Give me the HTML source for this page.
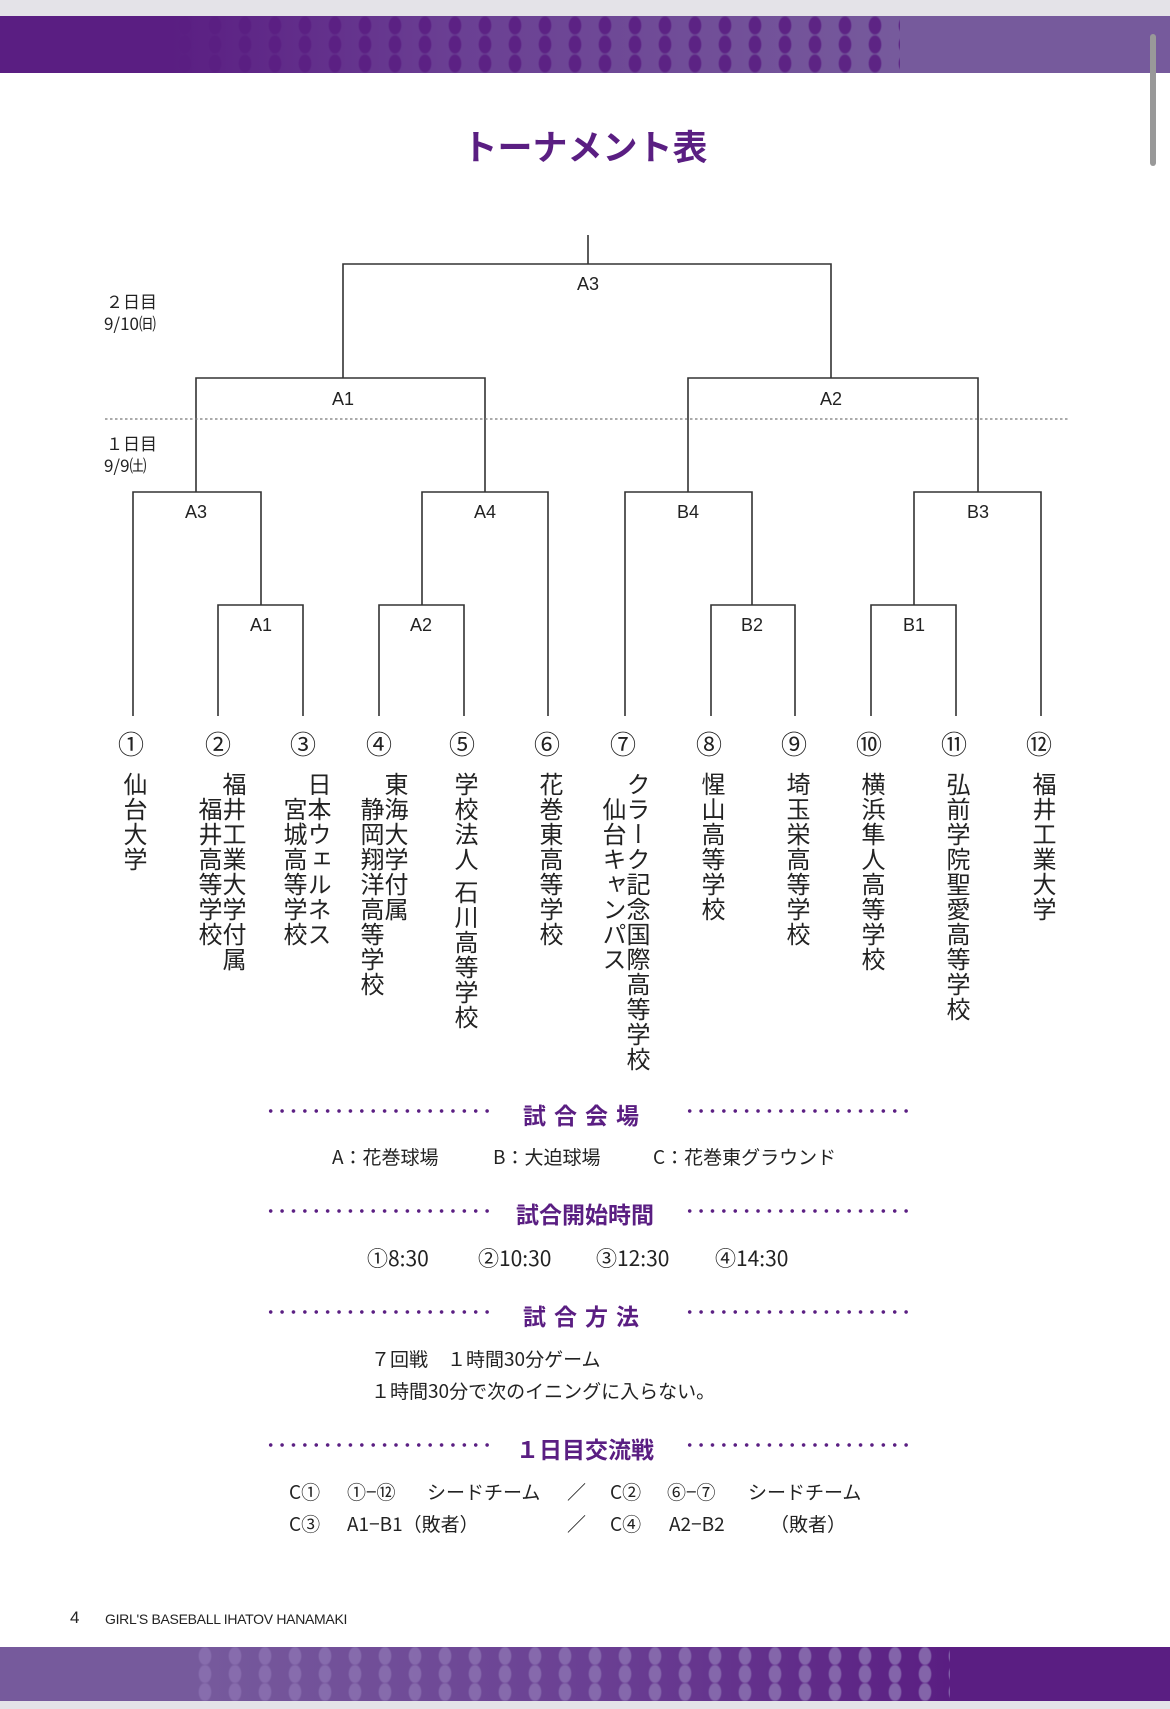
<!DOCTYPE html>
<html><head><meta charset="utf-8"><style>
*{margin:0;padding:0;box-sizing:border-box}
body{width:1170px;height:1709px;position:relative;background:#fff;overflow:hidden;font-family:"Liberation Sans","Noto Sans CJK JP",sans-serif;color:#222}
.a{position:absolute;white-space:nowrap}
.v{position:absolute;writing-mode:vertical-rl;font-size:24px;line-height:24px;letter-spacing:1px;color:#222;top:772px}
.h{position:absolute;left:0;width:1170px;text-align:center;color:#5a1e82;font-weight:bold;font-size:23px}
.dl{position:absolute;height:4px;background-image:radial-gradient(circle,#5a1e82 1.6px,transparent 2px);background-size:11.4px 4px}
.t{position:absolute;font-size:19px;white-space:nowrap;color:#222;font-family:"Noto Sans CJK JP",sans-serif;line-height:26px}
.t span{position:absolute;top:0}
</style></head><body>
<div class="a" style="left:0;top:0;width:1170px;height:16px;background:#e4e3e8"></div>
<div class="a" style="left:0;top:16px;width:1170px;height:57px;background:linear-gradient(90deg,#5a1e82 0,#5a1e82 170px,#6a3f93 450px,#765a9c 900px,#765a9c)"></div>
<div class="a" style="left:170px;top:16px;width:730px;height:57px;background-image:radial-gradient(ellipse 7px 10px,#5a1e82 80%,transparent 100%);background-size:30px 19px;opacity:.9"></div>
<div class="a" style="left:1150px;top:34px;width:6px;height:132px;background:#999;border-radius:3px"></div>
<div class="a" style="left:0;top:137px;width:1170px;text-align:center;font-size:35px;font-weight:bold;color:#5a1e82;line-height:24px">トーナメント表</div>

<svg class="a" style="left:0;top:0" width="1170" height="760" viewBox="0 0 1170 760">
<g stroke="#333" stroke-width="1.6" fill="none">
<path d="M588 235V264M343 378V264H831V378"/>
<path d="M196 492V378H485V492M688 492V378H978V492"/>
<path d="M133 716V492H261V605M422 605V492H548V716M625 716V492H752V605M914 605V492H1041V716"/>
<path d="M218 716V605H303V716M379 716V605H464V716M711 716V605H795V716M871 716V605H956V716"/>
</g>
<line x1="105" y1="419" x2="1070" y2="419" stroke="#777" stroke-width="1.2" stroke-dasharray="2.5 2.5"/>
<g font-family="Liberation Sans,sans-serif" font-size="18" fill="#222" text-anchor="middle">
<text x="588" y="290">A3</text>
<text x="343" y="405">A1</text><text x="831" y="405">A2</text>
<text x="196" y="518">A3</text><text x="485" y="518">A4</text><text x="688" y="518">B4</text><text x="978" y="518">B3</text>
<text x="261" y="631">A1</text><text x="421" y="631">A2</text><text x="752" y="631">B2</text><text x="914" y="631">B1</text>
</g>
<g font-family="Noto Sans CJK JP,sans-serif" font-size="17" fill="#222">
<text x="106" y="308">２日目</text><text x="104" y="330">9/10㈰</text>
<text x="106" y="450">１日目</text><text x="104" y="472">9/9㈯</text>
</g>
<g font-family="Noto Sans CJK JP,sans-serif" font-size="26" fill="#222" text-anchor="middle">
<text x="131" y="754">①</text><text x="218" y="754">②</text><text x="303" y="754">③</text><text x="379" y="754">④</text><text x="462" y="754">⑤</text><text x="547" y="754">⑥</text><text x="623" y="754">⑦</text><text x="709" y="754">⑧</text><text x="794" y="754">⑨</text><text x="869" y="754">⑩</text><text x="954" y="754">⑪</text><text x="1039" y="754">⑫</text>
</g>
</svg>

<div class="v" style="left:120px">仙台大学</div>
<div class="v" style="left:219px">福井工業大学付属</div>
<div class="v" style="left:195px;top:797px">福井高等学校</div>
<div class="v" style="left:304px">日本ウェルネス</div>
<div class="v" style="left:280px;top:797px">宮城高等学校</div>
<div class="v" style="left:381px">東海大学付属</div>
<div class="v" style="left:357px;top:797px">静岡翔洋高等学校</div>
<div class="v" style="left:451px">学校法人 石川高等学校</div>
<div class="v" style="left:536px">花巻東高等学校</div>
<div class="v" style="left:623px">クラーク記念国際高等学校</div>
<div class="v" style="left:599px;top:797px">仙台キャンパス</div>
<div class="v" style="left:698px">惺山高等学校</div>
<div class="v" style="left:783px">埼玉栄高等学校</div>
<div class="v" style="left:858px">横浜隼人高等学校</div>
<div class="v" style="left:943px">弘前学院聖愛高等学校</div>
<div class="v" style="left:1029px">福井工業大学</div>

<div class="dl" style="left:265px;top:1109px;width:230px"></div><div class="dl" style="left:684px;top:1109px;width:230px"></div>
<div class="h" style="top:1097px;letter-spacing:8px">試合会場</div>
<div class="t" style="left:0;top:1144px;width:1170px">
<span style="left:332px">A：花巻球場</span><span style="left:493px">B：大迫球場</span><span style="left:653px">C：花巻東グラウンド</span></div>

<div class="dl" style="left:265px;top:1209px;width:230px"></div><div class="dl" style="left:684px;top:1209px;width:230px"></div>
<div class="h" style="top:1196px">試合開始時間</div>
<div class="t" style="left:0;top:1245px;width:1170px;font-size:21px">
<span style="left:367px">①8:30</span><span style="left:478px">②10:30</span><span style="left:596px">③12:30</span><span style="left:715px">④14:30</span></div>

<div class="dl" style="left:265px;top:1310px;width:230px"></div><div class="dl" style="left:684px;top:1310px;width:230px"></div>
<div class="h" style="top:1298px;letter-spacing:8px">試合方法</div>
<div class="t" style="left:371px;top:1346px">７回戦　１時間30分ゲーム</div>
<div class="t" style="left:371px;top:1378px">１時間30分で次のイニングに入らない。</div>

<div class="dl" style="left:265px;top:1443px;width:230px"></div><div class="dl" style="left:684px;top:1443px;width:230px"></div>
<div class="h" style="top:1431px">１日目交流戦</div>
<div class="t" style="left:0;top:1479px;width:1170px">
<span style="left:289px">C①</span><span style="left:347px">①−⑫</span><span style="left:427px">シードチーム</span><span style="left:567px">／</span><span style="left:610px">C②</span><span style="left:667px">⑥−⑦</span><span style="left:748px">シードチーム</span></div>
<div class="t" style="left:0;top:1511px;width:1170px">
<span style="left:289px">C③</span><span style="left:347px">A1−B1（敗者）</span><span style="left:567px">／</span><span style="left:610px">C④</span><span style="left:669px">A2−B2</span><span style="left:770px">（敗者）</span></div>

<div class="a" style="left:70px;top:1608px;font-size:17px">4</div>
<div class="a" style="left:105px;top:1611px;font-size:14px;letter-spacing:-0.3px">GIRL'S BASEBALL IHATOV HANAMAKI</div>

<div class="a" style="left:0;top:1647px;width:1170px;height:54px;background:linear-gradient(90deg,#765a9c 0,#765a9c 200px,#6a3f93 600px,#5a1e82 950px,#5a1e82)"></div>
<div class="a" style="left:190px;top:1647px;width:760px;height:54px;background-image:radial-gradient(ellipse 7px 10px,#8a70b0 80%,transparent 100%);background-size:30px 18px;opacity:.85"></div>
<div class="a" style="left:0;top:1701px;width:1170px;height:8px;background:#e4e3e8"></div>
</body></html>
